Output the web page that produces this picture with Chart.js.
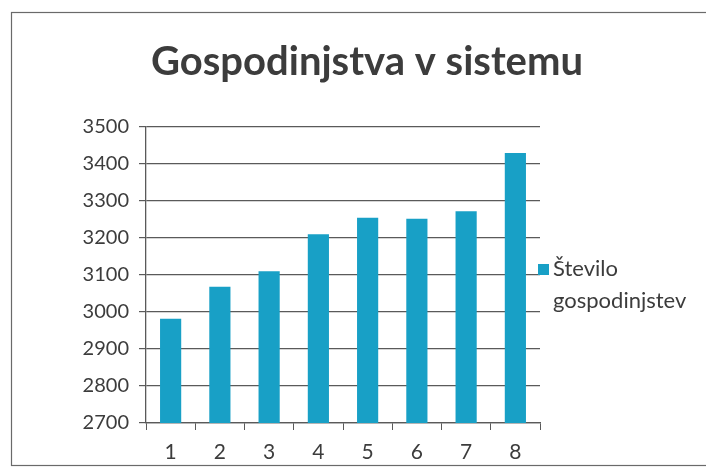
<!DOCTYPE html>
<html>
<head>
<meta charset="utf-8">
<title>Gospodinjstva v sistemu</title>
<script src="https://cdn.jsdelivr.net/npm/chart.js@4.4.1/dist/chart.umd.min.js"></script>
<style>
	html, body {
		margin: 0;
		padding: 0;
		background: #fff;
	}
	#wrap {
		width: 706px;
		height: 471px;
	}
</style>
</head>
<body>
<div id="wrap"><canvas id="chart" width="706" height="471"></canvas></div>
<script>
	// data
	var categories = [ '1', '2', '3', '4', '5', '6', '7', '8' ];
	var householdCounts = [ 2982, 3068, 3110, 3210, 3255, 3252, 3272, 3430 ];
	var seriesLabel = [ 'Število', 'gospodinjstev' ];
	var yTicks = [ 2700, 2800, 2900, 3000, 3100, 3200, 3300, 3400, 3500 ];
	var chartTitle = 'Gospodinjstva v sistemu';

	var barColor = 'rgb(24, 160, 198)';
	var inkColor = '#3c3c3c';
	var lineColor = '#5a5a5a';
	var fontFamily = 'Lato, "Open Sans", sans-serif';

	// frame, title and legend are drawn by hand (legend label wraps on two lines)
	var framePlugin = {
		id : 'frame',
		beforeDraw : function(chart) {
			var ctx = chart.ctx;
			ctx.save();
			ctx.fillStyle = '#fff';
			ctx.fillRect(0, 0, chart.width, chart.height);
			ctx.strokeStyle = '#6a6a6a';
			ctx.lineWidth = 1.2;
			ctx.strokeRect(11.5, 12.5, chart.width + 20, 453);
			ctx.restore();
		},
		afterDraw : function(chart) {
			var ctx = chart.ctx;
			var area = chart.chartArea;
			var ds = chart.data.datasets[0];
			ctx.save();
			// title
			ctx.fillStyle = inkColor;
			ctx.font = 'bold 40px ' + fontFamily;
			ctx.textAlign = 'center';
			ctx.textBaseline = 'middle';
			ctx.fillText(chartTitle, 367, 62);
			// legend
			var x = area.right - 2;
			var midY = (area.top + area.bottom) / 2;
			ctx.fillStyle = ds.backgroundColor;
			ctx.fillRect(x, midY - 11, 11, 11);
			ctx.fillStyle = inkColor;
			ctx.font = '22px ' + fontFamily;
			ctx.textAlign = 'left';
			var lines = ds.label;
			for (var i = 0; i < lines.length; i++) {
				ctx.fillText(lines[i], x + 15, midY - 6 + i * 32);
			}
			ctx.restore();
		}
	};

	new Chart(document.getElementById('chart'), {
		type : 'bar',
		data : {
			labels : categories,
			datasets : [ {
				label : seriesLabel,
				data : householdCounts,
				backgroundColor : barColor,
				borderWidth : 0,
				categoryPercentage : 1.0,
				barPercentage : 0.43
			} ]
		},
		options : {
			responsive : false,
			animation : false,
			layout : {
				padding : {
					left : 0,
					right : 166,
					top : 127,
					bottom : 0
				}
			},
			plugins : {
				legend : {
					display : false
				},
				tooltip : {
					enabled : false
				},
				title : {
					display : false
				}
			},
			scales : {
				x : {
					afterFit : function(scale) {
						scale.height = 48;
					},
					grid : {
						offset : true,
						drawOnChartArea : false,
						drawTicks : true,
						tickLength : 7,
						color : lineColor
					},
					border : {
						color : lineColor,
						width : 1.3
					},
					ticks : {
						color : inkColor,
						padding : 10,
						font : {
							family : fontFamily,
							size : 21
						}
					}
				},
				y : {
					min : 2700,
					max : 3500,
					afterFit : function(scale) {
						scale.width = 146;
					},
					afterBuildTicks : function(scale) {
						scale.ticks = yTicks.map(function(v) {
							return {
								value : v
							};
						});
					},
					grid : {
						drawTicks : true,
						tickLength : 7,
						color : lineColor,
						lineWidth : 1.2
					},
					border : {
						color : lineColor,
						width : 1.3
					},
					ticks : {
						color : inkColor,
						padding : 10,
						font : {
							family : fontFamily,
							size : 20
						},
						callback : function(value) {
							return String(value);
						}
					}
				}
			}
		},
		plugins : [ framePlugin ]
	});
</script>
</body>
</html>
